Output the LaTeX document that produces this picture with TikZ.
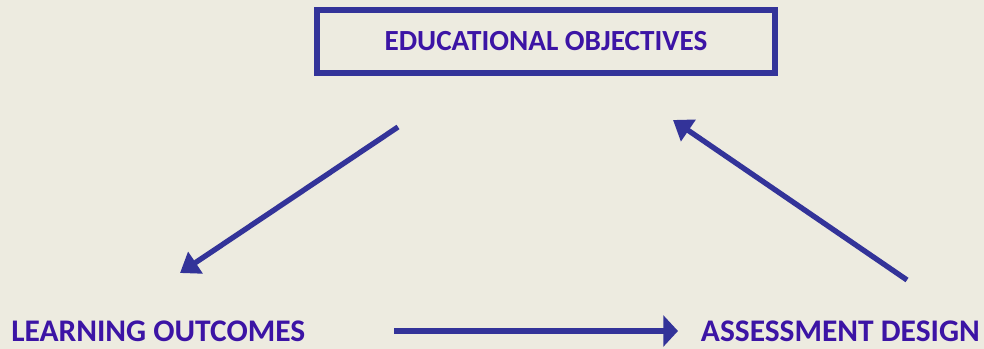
\documentclass[tikz,border=0pt]{standalone}
\usepackage{fontspec}
\setmainfont{Carlito}
\usepackage{tikz}
\usetikzlibrary{arrows.meta, positioning}
\definecolor{paper}{RGB}{237,235,224}
\definecolor{linkblue}{RGB}{51,51,153}
\definecolor{labelblue}{RGB}{60,20,165}

\begin{document}
\begin{tikzpicture}[
    x=0.75pt, y=-0.75pt,
    goalbox/.style={draw=linkblue, line width=4.5pt, minimum width=343pt,
                    minimum height=47pt, inner sep=0pt, text=labelblue,
                    font=\fontsize{21.9}{26}\selectfont\bfseries},
    stage/.style={inner sep=0pt, text=labelblue,
                  font=\fontsize{23.6}{28}\selectfont\bfseries},
    link/.style={draw=linkblue, line width=4pt,
                 -{Triangle[length=14pt, width=19pt]}},
    flow/.style={draw=linkblue, line width=4.5pt,
                 -{Triangle[length=11pt, width=23pt]}}
]
% ============== canvas ==================
\fill[paper] (0,0) rectangle (984,349);
\useasboundingbox (0,0) rectangle (984,349);
% ============== the three stages ==================
\node[goalbox] (obj) at (546,41.5) {EDUCATIONAL OBJECTIVES};
\node[stage, anchor=base west] (lo) at (11,341) {LEARNING OUTCOMES};
\node[stage, anchor=base east] (ad) at (980,341) {ASSESSMENT DESIGN};
% arrow end points
\coordinate (objL) at (398,127);
\coordinate (loT)  at (180,273);
\coordinate (loR)  at (394,331);
\coordinate (adL)  at (678,331);
\coordinate (adT)  at (907,280);
\coordinate (objR) at (673,120);
% ============== cycle ==================
\draw[link] (objL) -- (loT);
\draw[flow] (loR) -- (adL);
\draw[link] (adT) -- (objR);
\end{tikzpicture}
\end{document}
